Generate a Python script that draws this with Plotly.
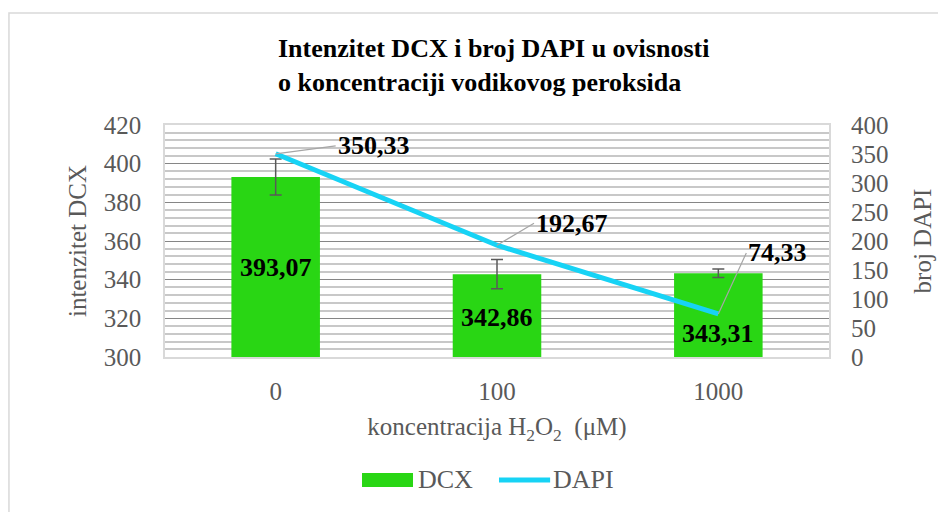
import plotly.graph_objects as go

# data
koncentracija = ['0', '100', '1000']
dcx = [393.07, 342.86, 343.31]
dcx_err = [9.3, 7.6, 2.2]
dapi = [350.33, 192.67, 74.33]

dcx_labels = [f'{v:.2f}'.replace('.', ',') for v in dcx]
dapi_labels = [f'{v:.2f}'.replace('.', ',') for v in dapi]

FONT = 'Liberation Serif'
GREEN = '#29D614'
CYAN = '#17D3F5'
TXT = '#595959'

fig = go.Figure()

fig.add_trace(go.Bar(x=koncentracija, y=dcx, name='DCX', marker=dict(color=GREEN, line=dict(width=0)),
                     width=0.4,
                     error_y=dict(type='data', array=dcx_err, visible=True, color='#595959',
                                  thickness=1.5, width=6),
                     showlegend=False))
fig.add_trace(go.Scatter(x=koncentracija, y=dapi, name='DAPI', mode='lines', yaxis='y2',
                         line=dict(color=CYAN, width=5), showlegend=False))

# DCX labels inside the bars (category index used for x)
dcx_shift = [-90, -43, -60]
for i, (v, t, s) in enumerate(zip(dcx, dcx_labels, dcx_shift)):
    fig.add_annotation(x=i, y=v, xref='x', yref='y', text='<b>' + t + '</b>', showarrow=False,
                       yshift=s, font=dict(family=FONT, size=26, color='black'))

# DAPI labels with leader lines
dapi_off = [(60, -8), (37, -22), (28, -61)]
for i, (v, t, (ax, ay)) in enumerate(zip(dapi, dapi_labels, dapi_off)):
    fig.add_annotation(x=i, y=v, xref='x', yref='y2', text='<b>' + t + '</b>', showarrow=True,
                       arrowhead=0, arrowwidth=1.2, arrowcolor='#A6A6A6', ax=ax, ay=ay,
                       xanchor='left', yanchor='middle', standoff=0,
                       font=dict(family=FONT, size=26, color='black'))

# custom legend
fig.add_shape(type='rect', xref='paper', yref='paper', x0=0.2967, x1=0.3735, y0=-0.5603, y1=-0.5,
              fillcolor=GREEN, line=dict(width=0))
fig.add_annotation(xref='paper', yref='paper', x=0.378, y=-0.530, text='DCX', showarrow=False,
                   xanchor='left', yanchor='middle', font=dict(family=FONT, size=26, color=TXT))
fig.add_shape(type='line', xref='paper', yref='paper', x0=0.503, x1=0.580, y0=-0.530, y1=-0.530,
              line=dict(color=CYAN, width=5))
fig.add_annotation(xref='paper', yref='paper', x=0.582, y=-0.530, text='DAPI', showarrow=False,
                   xanchor='left', yanchor='middle', font=dict(family=FONT, size=26, color=TXT))

# outer chart border
fig.add_shape(type='rect', xref='paper', yref='paper', x0=-0.235, x1=1.3, y0=-0.75, y1=1.483,
              line=dict(color='#D9D9D9', width=1.5), fillcolor='rgba(0,0,0,0)', layer='below')

# page body has an 8px margin, so the figure is 8px smaller than the window
W, H = 938, 504
fig.update_layout(
    width=W, height=H,
    margin=dict(l=157, r=117, t=117, b=155),
    paper_bgcolor='white', plot_bgcolor='white',
    font=dict(family=FONT, size=25, color=TXT),
    title=dict(text='<b>Intenzitet DCX i broj DAPI u ovisnosti<br>o koncentraciji vodikovog peroksida</b>',
               x=270 / W, xanchor='left', xref='container', y=1 - 49 / H, yanchor='top', yref='container',
               font=dict(family=FONT, size=26, color='black')),
    xaxis=dict(type='category', range=[-0.5, 2.5], showgrid=False, showline=True, linecolor='#D9D9D9',
               linewidth=1.5, mirror=True, ticks='outside', ticklen=11, tickcolor='rgba(0,0,0,0)',
               title=dict(text='koncentracija H<sub>2</sub>O<sub>2</sub>  (μM)', standoff=14,
                          font=dict(family=FONT, size=25, color=TXT))),
    yaxis=dict(range=[300, 420], dtick=20, showgrid=True, gridcolor='#868686', gridwidth=1,
               zeroline=False, showline=True, linecolor='#D9D9D9', linewidth=1.5, mirror=True,
               ticks='outside', ticklen=17, tickcolor='rgba(0,0,0,0)',
               minor=dict(dtick=4, showgrid=True, gridcolor='#C8C8C8', gridwidth=1.5),
               title=dict(text='intenzitet DCX', standoff=10, font=dict(family=FONT, size=25, color=TXT))),
    yaxis2=dict(range=[0, 400], dtick=50, overlaying='y', side='right', showgrid=False, zeroline=False,
                ticks='outside', ticklen=16, tickcolor='rgba(0,0,0,0)',
                title=dict(text='broj DAPI', standoff=25, font=dict(family=FONT, size=25, color=TXT))),
)

fig.write_html('out.html')
